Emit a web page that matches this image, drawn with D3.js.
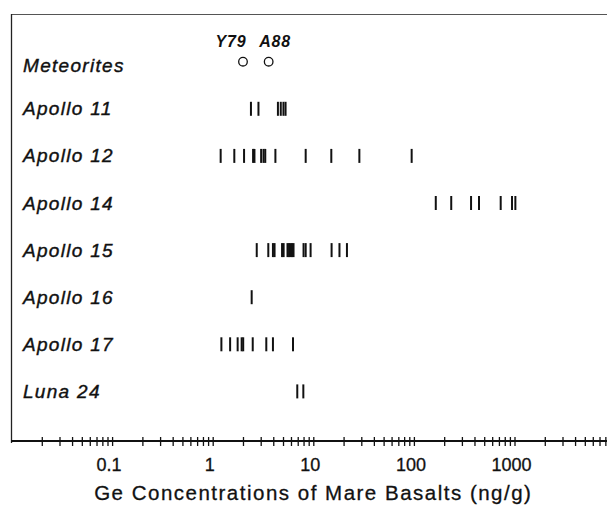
<!DOCTYPE html>
<html>
<head>
<meta charset="utf-8">
<script src="https://cdn.jsdelivr.net/npm/d3@7"></script>
<style>
  body { margin: 0; background: #fff; }
  svg { display: block; font-family: "Liberation Sans", Arial, sans-serif; }
</style>
</head>
<body>
<div id="chart"></div>
<script>
var rows = ["Meteorites", "Apollo 11", "Apollo 12", "Apollo 14", "Apollo 15", "Apollo 16", "Apollo 17", "Luna 24"];

// Ge concentrations (ng/g), one list per suite
var apollo11 = [2.4, 2.85, 4.45, 4.75, 5.05, 5.3];
var apollo12 = [1.2, 1.64, 2.05, 2.52, 2.6, 3.03, 3.2, 3.33, 4.2, 8.4, 15.1, 28.7, 95];
var apollo14 = [165, 235, 370, 444, 729, 945, 1020];
var apollo15 = [2.74, 3.57, 3.97, 4.12, 4.89, 5.07, 5.54, 5.74, 5.93, 6.14, 6.36, 8.0, 8.4, 9.4, 15.2, 18.2, 21.6];
var apollo16 = [2.44];
var apollo17 = [1.22, 1.49, 1.77, 1.94, 2.01, 2.5, 3.41, 3.97, 6.28];
var luna24 = [6.93, 7.96];

var meteorites = [
  { name: "Y79", value: 2.0 },
  { name: "A88", value: 3.6 }
];

var tickLabels = [0.1, 1, 10, 100, 1000];
var axisTitle = "Ge Concentrations of Mare Basalts (ng/g)";

var suites = [
  { row: "Apollo 11", values: apollo11 },
  { row: "Apollo 12", values: apollo12 },
  { row: "Apollo 14", values: apollo14 },
  { row: "Apollo 15", values: apollo15 },
  { row: "Apollo 16", values: apollo16 },
  { row: "Apollo 17", values: apollo17 },
  { row: "Luna 24", values: luna24 }
];

var width = 607, height = 505;
var axisY = 441;

var svg = d3.select("#chart").append("svg")
  .attr("width", width)
  .attr("height", height);

var x = d3.scaleLog()
  .domain([0.01, 10000])
  .range([11.5, 615.1]);

var y = d3.scalePoint()
  .domain(rows)
  .range([61.7, 391.4]);

// frame: top and left edges
svg.append("line")
  .attr("x1", 11).attr("x2", width)
  .attr("y1", 14.5).attr("y2", 14.5)
  .attr("stroke", "#555").attr("stroke-width", 1.2);
svg.append("line")
  .attr("x1", 11.5).attr("x2", 11.5)
  .attr("y1", 14).attr("y2", axisY + 2)
  .attr("stroke", "#222").attr("stroke-width", 1.3);

// row labels
svg.selectAll(".rowLabel")
  .data(rows)
  .enter()
  .append("text")
  .attr("class", "rowLabel")
  .attr("x", 23)
  .attr("y", function(d) { return y(d) + (d == "Meteorites" ? 10.5 : 6.5); })
  .attr("font-size", 19)
  .attr("font-style", "italic")
  .attr("letter-spacing", 1.3)
  .attr("fill", "#111")
  .attr("stroke", "#111")
  .attr("stroke-width", 0.4)
  .text(function(d) { return d; });

// bars
var flat = [];
suites.forEach(function(s) {
  s.values.forEach(function(v) { flat.push({ row: s.row, value: v }); });
});

svg.selectAll(".bar")
  .data(flat)
  .enter()
  .append("line")
  .attr("class", "bar")
  .attr("x1", function(d) { return x(d.value); })
  .attr("x2", function(d) { return x(d.value); })
  .attr("y1", function(d) { return y(d.row) - 7; })
  .attr("y2", function(d) { return y(d.row) + 7; })
  .attr("stroke", "#111")
  .attr("stroke-width", 2);

// meteorites
svg.selectAll(".met")
  .data(meteorites)
  .enter()
  .append("circle")
  .attr("class", "met")
  .attr("cx", function(d) { return x(d.value); })
  .attr("cy", y("Meteorites"))
  .attr("r", 4.3)
  .attr("fill", "none")
  .attr("stroke", "#111")
  .attr("stroke-width", 1.3);

svg.selectAll(".metLabel")
  .data(meteorites)
  .enter()
  .append("text")
  .attr("class", "metLabel")
  .attr("x", function(d, i) { return x(d.value) + (i == 0 ? -12 : 6.5); })
  .attr("y", y("Meteorites") - 15)
  .attr("text-anchor", "middle")
  .attr("font-size", 16)
  .attr("font-style", "italic")
  .attr("font-weight", "bold")
  .attr("letter-spacing", 0.8)
  .attr("fill", "#111")
  .text(function(d) { return d.name; });

// axis with minor log ticks crossing the line
var minor = [];
for (var e = -2; e < 4; e++) {
  for (var m = 1; m < 10; m++) {
    var v = m * Math.pow(10, e);
    if (v > 0.01) minor.push(v);
  }
}

var axis = svg.append("g")
  .attr("transform", "translate(0," + axisY + ")")
  .call(d3.axisBottom(x).tickValues(minor).tickSize(5).tickFormat(""));

axis.select(".domain").remove();
axis.selectAll(".tick line")
  .attr("y1", -4)
  .attr("stroke", "#111")
  .attr("stroke-width", 1.3);

axis.append("line")
  .attr("x1", 11).attr("x2", width)
  .attr("stroke", "#111").attr("stroke-width", 2);

svg.selectAll(".tickLabel")
  .data(tickLabels)
  .enter()
  .append("text")
  .attr("class", "tickLabel")
  .attr("x", function(d) { return x(d) - 3; })
  .attr("y", 471)
  .attr("text-anchor", "middle")
  .attr("font-size", 18)
  .attr("fill", "#111")
  .attr("stroke", "#111")
  .attr("stroke-width", 0.3)
  .text(function(d) { return d; });

svg.append("text")
  .attr("x", x(10))
  .attr("y", 500)
  .attr("text-anchor", "middle")
  .attr("font-size", 20.5)
  .attr("letter-spacing", 1.5)
  .attr("fill", "#111")
  .attr("stroke", "#111")
  .attr("stroke-width", 0.3)
  .text(axisTitle);
</script>
</body>
</html>
